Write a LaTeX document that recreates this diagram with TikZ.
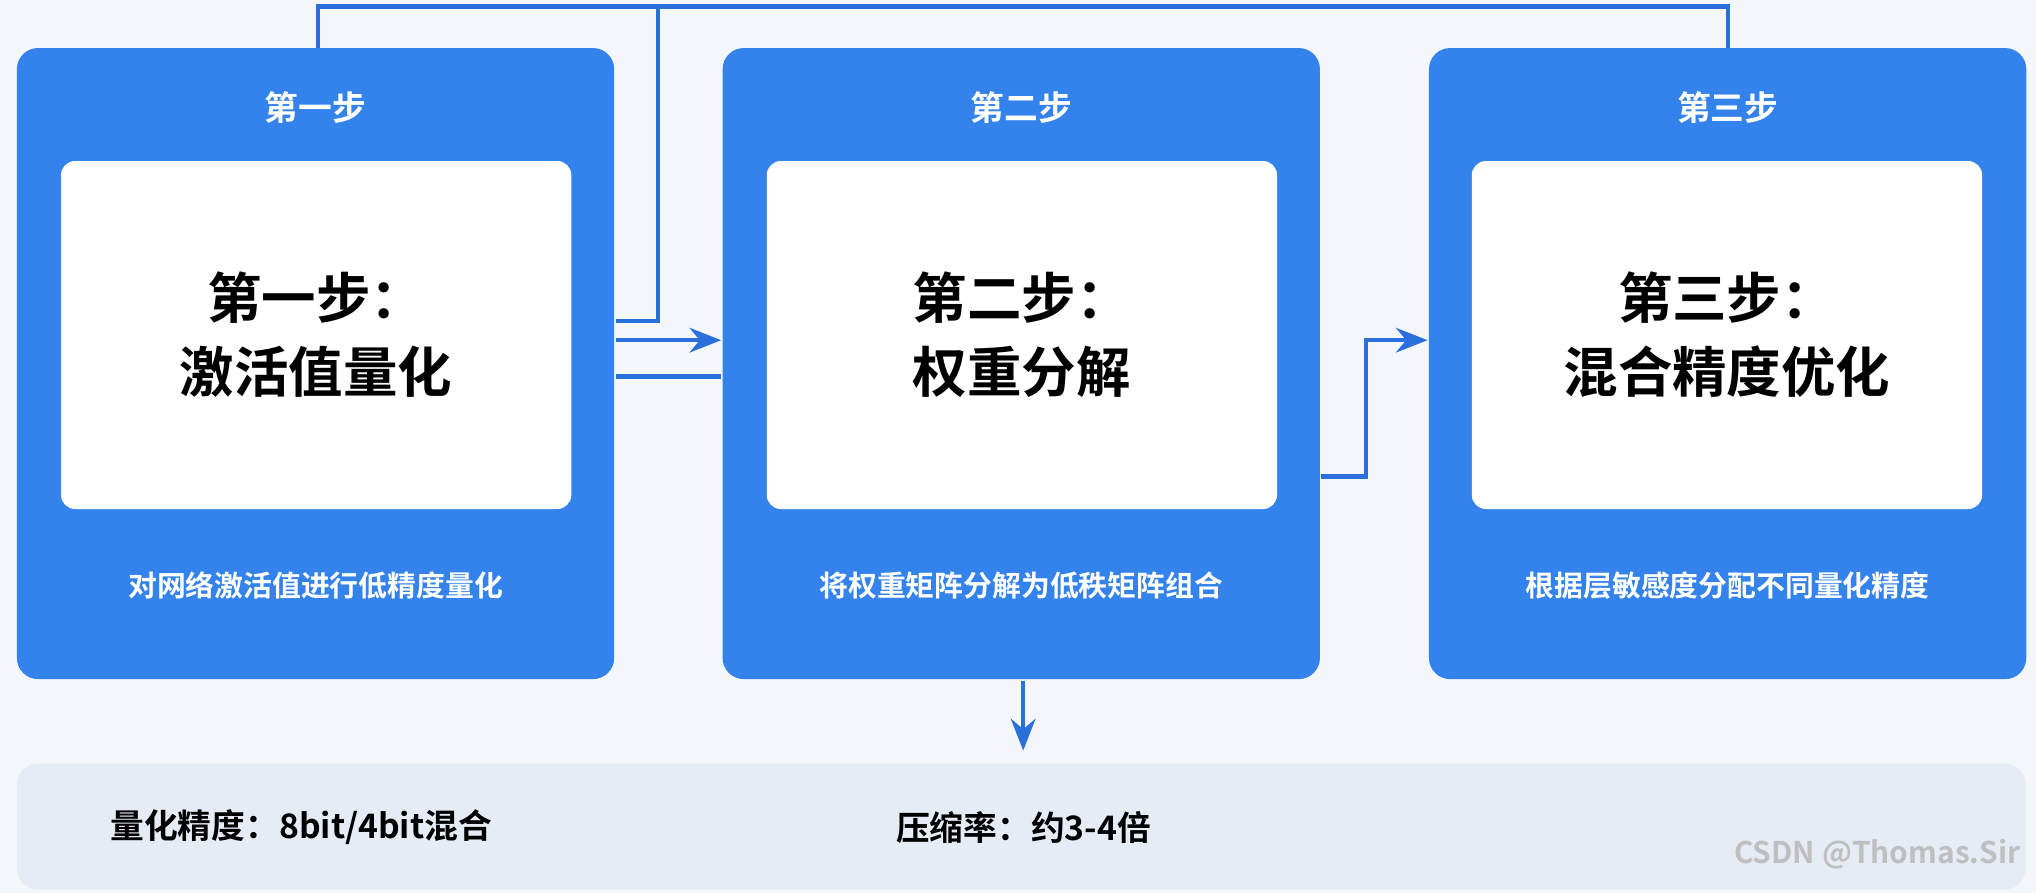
\documentclass[tikz,border=0pt]{standalone}
\usepackage{fontspec}
\setmainfont{Noto Sans CJK SC Bold}
\usetikzlibrary{arrows.meta,positioning}
\definecolor{bgcol}{HTML}{F3F6FA}
\definecolor{stageblue}{HTML}{3483EC}
\definecolor{linkblue}{HTML}{2A6FDB}
\definecolor{panelcol}{HTML}{E6ECF5}

\begin{document}
\begin{tikzpicture}[x=0.012985cm,y=-0.012985cm,>={Stealth[length=9pt,width=7pt]},thick,
  stage box/.style={rectangle,rounded corners=6pt,fill=stageblue,minimum width=460*0.012985cm,minimum height=486*0.012985cm,inner sep=0pt},
  inner box/.style={rectangle,rounded corners=4pt,fill=white,minimum width=393*0.012985cm,minimum height=268*0.012985cm,font=\fontsize{15.5}{21}\selectfont,align=center,inner sep=0pt},
  head text/.style={text=white,font=\fontsize{9.6}{12}\selectfont},
  note text/.style={text=white,font=\fontsize{8.2}{10}\selectfont},
  link/.style={linkblue,line width=1.2pt}]

  \fill[bgcol] (0,0) rectangle (1568,688);

  \node[stage box] (S1) at (243,280) {};
  \node[stage box] (S2) at (786.5,280) {};
  \node[stage box] (S3) at (1330.5,280) {};

  \node[inner box] (I1) at (243.5,258) {第一步：\\激活值量化};
  \node[inner box] (I2) at (787,258) {第二步：\\权重分解};
  \node[inner box] (I3) at (1330,258) {第三步：\\混合精度优化};

  \node[head text] (H1) at (243,83) {第一步};
  \node[head text] (H2) at (786.5,83) {第二步};
  \node[head text] (H3) at (1330.5,83) {第三步};

  \node[note text] (N1) at (243,451) {对网络激活值进行低精度量化};
  \node[note text] (N2) at (786.5,451) {将权重矩阵分解为低秩矩阵组合};
  \node[note text] (N3) at (1330.5,451) {根据层敏感度分配不同量化精度};

  % bottom summary panel
  \node[rectangle,rounded corners=6pt,fill=panelcol,minimum width=1547*0.012985cm,minimum height=97*0.012985cm,inner sep=0pt] (P) at (786.5,636.5) {};
  \node[anchor=west,font=\fontsize{9.6}{12}\selectfont] (R1) at (75,637) {量化精度：8bit/4bit混合};
  \node[anchor=west,font=\fontsize{9.6}{12}\selectfont] (R2) at (680,637) {压缩率：约3-4倍};
  \node[anchor=east,text=black!25,font=\fontsize{8.5}{10}\selectfont] (W) at (1566,658) {CSDN @Thomas.Sir};

  \coordinate (T1) at (245,37);
  \coordinate (T3) at (1331,37);
  \coordinate (D2) at (788,578);

  \draw[link] (T1) |- (507,5) -| (T3);
  \draw[link] (507,5) -- (507,247) -- (S1.east |- 0,247);
  \draw[link,->] (S1.east |- 0,262) -- (S2.west |- 0,262);
  \draw[link] (S1.east |- 0,290) -- (S2.west |- 0,290);
  \draw[link,->] (S2.east |- 0,367) -- (1052,367) |- (S3.west |- 0,262);
  \draw[link,->] (S2.south -| D2) -- (D2);
\end{tikzpicture}
\end{document}
